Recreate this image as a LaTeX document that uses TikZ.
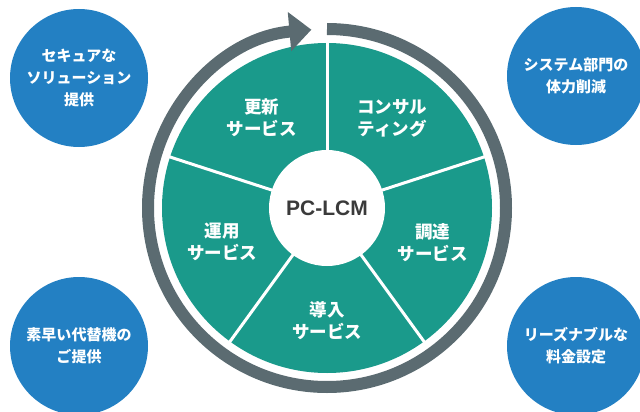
\documentclass[tikz,border=0pt]{standalone}
\usepackage{fontspec}
\newfontfamily\jpfont{Noto Sans CJK JP}
\setsansfont{Liberation Sans}
\usetikzlibrary{arrows.meta,calc}
\definecolor{pieteal}{HTML}{1A9A8B}
\definecolor{ringgray}{HTML}{5B6B71}
\definecolor{bubbleblue}{HTML}{2380C3}
\definecolor{hubtext}{HTML}{3A3A3A}

\begin{document}
\begin{tikzpicture}
[x=1pt,y=1pt,
bubble/.style = {circle, fill=bubbleblue, minimum size=138pt, inner sep=0pt, text=white, align=center, font=\jpfont\bfseries\fontsize{15}{22}\selectfont},
sector/.style = {text=white, align=center, font=\jpfont\bfseries\fontsize{17.5}{22}\selectfont},
divider/.style = {draw=white, line width=3pt},
ring/.style = {draw=ringgray, line width=12pt, -{Triangle[length=22pt,width=38pt]}},]
\useasboundingbox (0,0) rectangle (640,-412);
\coordinate (c) at (327,-208);
% pie
\fill[pieteal] (c) circle (165);
\foreach \a in {90,18,-54,-126,162}
  \draw[divider] (c) -- ($(c)+(\a:166)$);
\node (hub) at (c)[circle, fill=white, minimum size=116pt, inner sep=0pt, text=hubtext, font=\sffamily\bfseries\fontsize{21}{24}\selectfont] {PC-LCM};
\node (renew) at ($(c)+(126:111)$)[sector] {更新\\サービス};
\node (consult) at ($(c)+(54:111)$)[sector] {コンサル\\ティング};
\node (procure) at ($(c)+(-18:111)$)[sector] {調達\\サービス};
\node (deploy) at ($(c)+(-90:113)$)[sector] {導入\\サービス};
\node (operate) at ($(c)+(198:110)$)[sector] {運用\\サービス};
% cycle arrow
\draw[ring] ($(c)+(90:179)$) arc[start angle=90, end angle=-265, radius=179];
% benefits
\node (secure) at (79,-78)[bubble] {セキュアな\\ソリューション\\提供};
\node (reduce) at (576,-76)[bubble] {システム部門の\\体力削減};
\node (spare) at (79,-346)[bubble] {素早い代替機の\\ご提供};
\node (price) at (576,-346)[bubble] {リーズナブルな\\料金設定};
\end{tikzpicture}
\end{document}
